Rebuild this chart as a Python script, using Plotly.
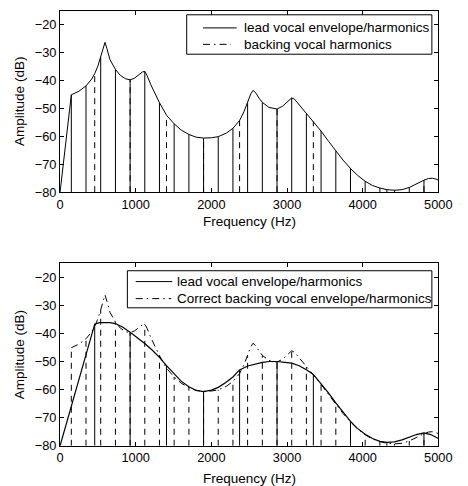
import plotly.graph_objects as go

# ---------------- data ----------------
# peaky envelope (top: lead vocal envelope; bottom: correct backing vocal envelope)
env1_f = [0, 149, 250, 343, 420, 458, 500, 537, 570, 594, 620, 660, 732, 800, 870, 926,
          980, 1040, 1090, 1120, 1150, 1200, 1260, 1314, 1407, 1508, 1600, 1703, 1800, 1897,
          2000, 2091, 2200, 2285, 2373, 2430, 2479, 2520, 2551, 2590, 2630, 2674, 2760, 2868,
          2940, 3010, 3062, 3100, 3180, 3256, 3348, 3450, 3550, 3645, 3740, 3839, 3930, 4033,
          4130, 4227, 4320, 4421, 4520, 4616, 4710, 4810, 4870, 4920, 4970, 5000]
env1_db = [-80, -45.1, -43.8, -41.9, -39.4, -37.5, -34.8, -31.6, -28.6, -26.3, -28.6, -32.5,
           -36.0, -38.2, -39.4, -39.7, -39.2, -38.0, -36.9, -36.7, -38.2, -41.5, -45.0, -47.9,
           -52.4, -55.5, -57.7, -59.3, -60.3, -60.6, -60.5, -60.1, -58.8, -57.1, -54.3, -51.2,
           -47.8, -44.8, -43.5, -44.5, -46.3, -47.8, -49.6, -50.2, -49.2, -47.3, -46.2, -46.7,
           -49.3, -52.0, -54.7, -58.1, -61.8, -65.3, -68.5, -71.5, -73.9, -76.1, -77.6, -78.5,
           -79.1, -79.3, -79.1, -78.3, -77.0, -75.7, -75.1, -75.0, -75.3, -75.7]

# dense harmonic set (top: lead harmonics; bottom: backing harmonics)
dense_f = [149, 343, 537, 732, 926, 1120, 1314, 1508, 1703, 1897, 2091, 2285, 2479, 2674,
           2868, 3062, 3256, 3450, 3645, 3839, 4033, 4227, 4421, 4616, 4810]
dense_db = [-45.1, -41.9, -31.6, -36.0, -39.7, -36.7, -47.9, -55.5, -59.3, -60.6, -60.1,
            -57.1, -47.8, -47.8, -50.2, -46.2, -52.0, -58.1, -65.3, -71.5, -76.1, -78.5,
            -79.3, -78.3, -75.7]

# sparse harmonic set (top: backing harmonics on lead envelope)
sparse_f = [458, 926, 1407, 1897, 2373, 2868, 3348, 3839, 4320, 4810]
sparse_top_db = [-37.5, -39.7, -52.4, -60.6, -54.3, -50.2, -54.7, -71.5, -79.1, -75.7]

# smooth envelope (bottom: lead vocal envelope)
env2_f = [0, 458, 520, 594, 660, 732, 830, 926, 1020, 1120, 1220, 1314, 1407, 1508, 1600,
          1703, 1800, 1897, 2000, 2091, 2190, 2285, 2373, 2480, 2580, 2674, 2770, 2868, 2970,
          3062, 3160, 3256, 3348, 3450, 3550, 3645, 3740, 3839, 3930, 4033, 4130, 4227, 4320,
          4420, 4520, 4616, 4710, 4810, 4900, 5000]
env2_db = [-80, -36.7, -36.2, -36.1, -36.2, -36.5, -37.8, -39.6, -41.5, -43.6, -46.0, -48.5,
           -51.5, -54.5, -57.0, -59.0, -60.3, -60.7, -60.2, -59.2, -57.5, -55.5, -53.0, -51.6,
           -50.8, -50.3, -50.0, -50.0, -50.3, -50.6, -51.5, -52.9, -54.6, -57.8, -61.3, -64.7,
           -68.0, -71.3, -73.8, -75.9, -77.4, -78.4, -78.8, -78.6, -77.9, -77.0, -76.0, -75.4,
           -76.0, -77.4]
sparse_bot_db = [-36.7, -39.6, -51.5, -60.7, -53.0, -50.0, -54.6, -71.3, -78.8, -75.4]

x_ticks = [0, 1000, 2000, 3000, 4000, 5000]
y_ticks = [-80, -70, -60, -50, -40, -30, -20]
FLOOR = -80

top_labels = ["lead vocal envelope/harmonics", "backing vocal harmonics"]
bot_labels = ["lead vocal envelope/harmonics", "Correct backing vocal envelope/harmonics"]

# ---------------- helpers ----------------
def stems(fs, dbs):
    xs, ys = [], []
    for f, d in zip(fs, dbs):
        xs += [f, f, None]
        ys += [FLOOR, d, None]
    return xs, ys

FONT = "Liberation Sans, Arial, Helvetica, sans-serif"
BLK = "#000000"
DASH_V = "6px,5px"
DASH_DOT = "7px,4px,1.5px,4px"
W, H = 468, 486

fig = go.Figure()

# ---- top panel ----
xs, ys = stems(dense_f, dense_db)
fig.add_trace(go.Scatter(x=xs, y=ys, mode="lines", line=dict(color=BLK, width=1),
                         showlegend=False, xaxis="x", yaxis="y", hoverinfo="skip"))
xs, ys = stems(sparse_f, sparse_top_db)
fig.add_trace(go.Scatter(x=xs, y=ys, mode="lines", line=dict(color=BLK, width=1, dash=DASH_V),
                         showlegend=False, xaxis="x", yaxis="y", hoverinfo="skip"))
fig.add_trace(go.Scatter(x=env1_f, y=env1_db, mode="lines", line=dict(color=BLK, width=1),
                         name=top_labels[0], showlegend=False, xaxis="x", yaxis="y"))

# ---- bottom panel ----
xs, ys = stems(dense_f, dense_db)
fig.add_trace(go.Scatter(x=xs, y=ys, mode="lines", line=dict(color=BLK, width=1, dash=DASH_V),
                         showlegend=False, xaxis="x2", yaxis="y2", hoverinfo="skip"))
xs, ys = stems(sparse_f, sparse_bot_db)
fig.add_trace(go.Scatter(x=xs, y=ys, mode="lines", line=dict(color=BLK, width=1),
                         showlegend=False, xaxis="x2", yaxis="y2", hoverinfo="skip"))
fig.add_trace(go.Scatter(x=env2_f, y=env2_db, mode="lines", line=dict(color=BLK, width=1.2),
                         name=bot_labels[0], showlegend=False, xaxis="x2", yaxis="y2"))
fig.add_trace(go.Scatter(x=env1_f[1:], y=env1_db[1:], mode="lines",
                         line=dict(color=BLK, width=1, dash=DASH_DOT),
                         name=bot_labels[1], showlegend=False, xaxis="x2", yaxis="y2"))

xdom = [58.3 / W, 451.7 / W]
ydom_top = [1 - 195 / H, 1 - 11 / H]
ydom_bot = [1 - 452.3 / H, 1 - 267 / H]

axis_common = dict(showline=True, linecolor=BLK, linewidth=1, mirror="ticks",
                   ticks="inside", ticklen=4, tickcolor=BLK, tickwidth=1,
                   showgrid=False, zeroline=False,
                   tickfont=dict(family=FONT, size=12.8, color=BLK))

def px(x):
    return x / W

def py(y):
    return 1 - y / H

# ---- hand-built legends (box, line samples, labels) ----
shapes, annotations = [], []

def legend(box, rows, sample_x0, text_x, labels, dashes, sample_ends):
    x0, y0, x1, y1 = box
    shapes.append(dict(type="rect", xref="paper", yref="paper",
                       x0=px(x0), x1=px(x1), y0=py(y1), y1=py(y0),
                       fillcolor="white", line=dict(color=BLK, width=1), layer="above"))
    for ry, lab, dsh, xe in zip(rows, labels, dashes, sample_ends):
        shapes.append(dict(type="line", xref="paper", yref="paper",
                           x0=px(sample_x0), x1=px(xe), y0=py(ry), y1=py(ry),
                           line=dict(color=BLK, width=1, dash=dsh), layer="above"))
        annotations.append(dict(text=lab, x=px(text_x), y=py(ry), xref="paper", yref="paper",
                                showarrow=False, xanchor="left", yanchor="middle",
                                font=dict(family=FONT, size=13.5, color=BLK)))

legend((190, 15, 445, 55), (28.3, 45.0), 207, 248, top_labels,
       ("solid", DASH_DOT), (242, 236))
legend((128.3, 274.7, 445, 312.3), (285.7, 303.0), 137, 178, bot_labels,
       ("solid", DASH_DOT), (175, 174))

# ---- axis titles ----
for ty in (215, 476):
    annotations.append(dict(text="Frequency (Hz)", x=px((58.3 + 451.7) / 2), y=py(ty),
                            xref="paper", yref="paper", showarrow=False,
                            xanchor="center", yanchor="top",
                            font=dict(family=FONT, size=13.5, color=BLK)))
for cy in (103, 360):
    annotations.append(dict(text="Amplitude (dB)", x=px(16), y=py(cy), textangle=-90,
                            xref="paper", yref="paper", showarrow=False,
                            xanchor="center", yanchor="middle",
                            font=dict(family=FONT, size=13.5, color=BLK)))

fig.update_layout(
    width=W, height=H, autosize=False,
    margin=dict(l=0, r=0, t=0, b=0),
    paper_bgcolor="white", plot_bgcolor="white",
    font=dict(family=FONT, color=BLK),
    showlegend=False,
    xaxis=dict(domain=xdom, range=[0, 5000], tickvals=x_ticks, anchor="y", **axis_common),
    yaxis=dict(domain=ydom_top, range=[-80, -15], tickvals=y_ticks, anchor="x", **axis_common),
    xaxis2=dict(domain=xdom, range=[0, 5000], tickvals=x_ticks, anchor="y2", **axis_common),
    yaxis2=dict(domain=ydom_bot, range=[-80, -15], tickvals=y_ticks, anchor="x2", **axis_common),
    shapes=shapes,
    annotations=annotations,
)

fig.write_html("out.html")
